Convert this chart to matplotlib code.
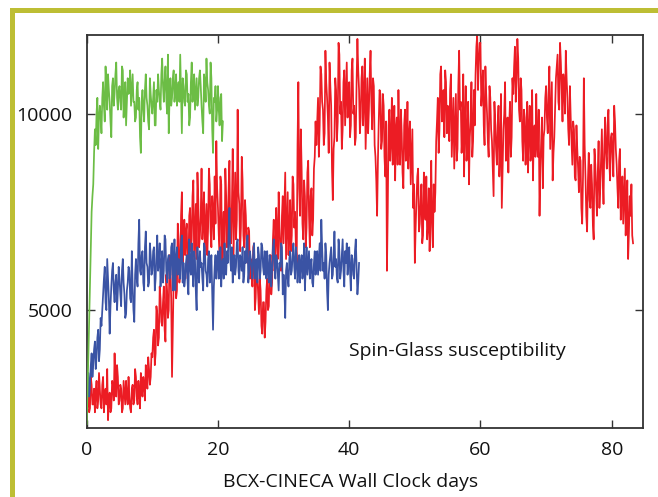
import numpy as np
import matplotlib
matplotlib.use("Agg")
import matplotlib.pyplot as plt
from matplotlib.patches import Rectangle

# ---------------- data ----------------
# each series is sampled every 0.25 days (values) plus the samples in between
# (values_mid, taken at +0.125 days)
red_start, red_step = 0.0, 0.25
red_values = [
    2300, 2900, 2500, 3100, 2600, 2400, 3200, 2700, 3000, 2500, 3300, 2800, 2600, 2200, 2900, 2500, 3100, 3900, 2800, 3300,
    2700, 3000, 2500, 2900, 3200, 2600, 2800, 2400, 3100, 2700, 3300, 2600, 2900, 3400, 2800, 3100, 3600, 3000, 3500, 3300,
    3800, 4500, 3900, 4900, 4300, 5300, 4600, 5600, 4200, 5500, 5000, 6100, 3300, 5800, 6300, 5500, 6800, 6000, 8000, 6600,
    6400, 7200, 6100, 7600, 6800, 8300, 7000, 6300, 7800, 6900, 8600, 7300, 6500, 7700, 7100, 8200, 6600, 7500, 8400, 9300,
    7600, 6500, 8200, 7000, 6300, 7900, 7200, 8800, 6700, 9100, 7500, 6800, 10100, 7700, 7100, 8300, 6600, 7400, 6200, 7000,
    6300, 5600, 6700, 5300, 5900, 4900, 5500, 4400, 5200, 4700, 5800, 5100, 6400, 5700, 7300, 6200, 6900, 8000, 6500, 7400,
    6700, 8500, 7200, 6400, 7800, 6900, 8200, 7500, 6200, 10800, 7400, 8600, 6800, 7900, 7100, 8800, 6600, 8100, 7300, 8900,
    9200, 10400, 9700, 11000, 10100, 9500, 10800, 9900, 11300, 10200, 7800, 9400, 10600, 9800, 11500, 10300, 9600, 11100, 10500, 9900,
    10800, 9700, 11400, 10200, 9400, 11900, 10600, 9900, 11200, 10400, 9100, 10900, 10100, 11600, 9600, 10700, 8900, 7400, 9800, 10500,
    9300, 10200, 8400, 6000, 9700, 8800, 10400, 9100, 8300, 9900, 10600, 8700, 9500, 8100, 10100, 9200, 8600, 9800, 8900, 7600,
    6200, 7800, 8600, 7200, 8200, 6900, 7600, 8400, 7100, 6500, 8800, 6600, 7500, 9300, 10400, 9600, 11200, 10000, 9400, 10800,
    10200, 9300, 11000, 9700, 8600, 10500, 9100, 11600, 10300, 9500, 8400, 10700, 9200, 8200, 9800, 8900, 10600, 11000, 12000, 11300,
    11800, 10600, 9700, 11200, 10000, 8900, 10400, 9300, 7900, 9800, 8700, 10200, 9000, 7600, 9600, 10800, 9200, 8500, 10300, 9400,
    10500, 11700, 10900, 11400, 9800, 10600, 8800, 9900, 9400, 8500, 10200, 9100, 8300, 9700, 10500, 8900, 7400, 9300, 8100, 9600,
    10700, 9500, 11200, 10000, 8300, 9400, 10900, 11500, 10100, 11300, 9800, 10700, 11600, 10400, 9200, 9900, 8700, 9600, 8300, 9100,
    8000, 8800, 7200, 10900, 8400, 7000, 9000, 7600, 8200, 6800, 8700, 7400, 9300, 8100, 9600, 7700, 9900, 8600, 10100, 8300,
    9500, 8400, 9800, 8700, 7600, 9100, 8000, 7200, 8600, 7500, 6300, 7900, 8200, 6700,
]
red_values_mid = [
    2700, 2400, 3300, 2600, 3000, 2900, 2500, 3400, 2600, 3100, 2400, 3000, 3500, 2700, 2400, 3200, 2700, 3000, 3600, 2600,
    3100, 2400, 3200, 2600, 2800, 3300, 2500, 3000, 2600, 3500, 2800, 3200, 2500, 3000, 3300, 2700, 3200, 3800, 3100, 3900,
    4300, 3600, 5100, 4100, 5600, 4700, 5200, 4500, 5900, 4800, 6400, 5300, 4600, 6200, 5300, 7200, 5700, 7400, 6200, 7300,
    7000, 5800, 7400, 6500, 7900, 6200, 7700, 8500, 6600, 7400, 6800, 8000, 7100, 6400, 8600, 7000, 7900, 6800, 7200, 8100,
    6900, 8400, 6200, 7500, 8600, 6600, 8100, 6900, 7700, 6400, 8500, 7300, 8000, 6500, 8900, 6900, 7800, 6500, 7100, 5800,
    5900, 6600, 5000, 6200, 5400, 5800, 4600, 5200, 4300, 5500, 5000, 6100, 5400, 6800, 6000, 7600, 6300, 7100, 6000, 7900,
    7600, 6300, 8000, 7000, 6500, 8400, 7100, 6600, 9200, 8100, 9600, 7200, 8300, 6600, 8500, 7400, 7900, 6900, 8600, 9800,
    9800, 8900, 11200, 10300, 9200, 11600, 10400, 9000, 10700, 8600, 9100, 10900, 9300, 11800, 10000, 9100, 10800, 9700, 11300, 10400,
    9400, 11100, 10000, 9200, 10800, 11100, 9500, 10900, 9700, 11400, 10000, 9500, 11000, 10300, 10900, 9200, 8300, 8800, 10600, 9100,
    10500, 8900, 9800, 7600, 10100, 9300, 8700, 10200, 9600, 8700, 9400, 10100, 8500, 9700, 8800, 10300, 9400, 8200, 9600, 8200,
    7100, 8400, 7000, 7800, 6700, 8500, 7300, 6800, 8100, 7400, 7100, 8200, 8000, 9800, 9000, 11000, 9800, 10600, 11100, 9500,
    9600, 10600, 8900, 10400, 9600, 8800, 10700, 10100, 9000, 11000, 9700, 8800, 10300, 9400, 10800, 9300, 9700, 11700, 10600, 11800,
    10200, 11100, 9200, 10500, 9300, 10700, 9600, 8600, 10300, 9100, 9700, 8400, 10500, 8600, 10000, 8800, 9900, 9700, 8900, 10900,
    11200, 10300, 11900, 10100, 10900, 9300, 10100, 8700, 10300, 9600, 8800, 10600, 9500, 8900, 9200, 10100, 8600, 9900, 9400, 10400,
    9900, 10500, 9100, 10800, 9000, 10200, 11200, 10300, 11800, 10600, 11000, 10000, 10900, 9600, 10700, 9300, 9800, 8400, 9700, 8600,
    8900, 7600, 8400, 9200, 7400, 8300, 7800, 8700, 7200, 9100, 8000, 8500, 7600, 8900, 8400, 9200, 9000, 9700, 8800, 9400,
    8900, 10200, 9100, 8100, 8800, 7300, 8400, 7900, 6900, 8300, 7000, 7400, 6900,
]

blue_start, blue_step = 0.0, 0.25
blue_values = [
    2600, 3400, 3100, 3900, 3600, 4200, 3800, 4500, 4000, 4600,
    5400, 6100, 5000, 5800, 4400, 5600, 6200, 5200, 5900, 5500,
    5800, 5100, 6300, 5400, 4900, 5700, 6000, 5200, 5600, 4700,
    6300, 5600, 7300, 5900, 6500, 5500, 7000, 6100, 5700, 6400,
    6000, 6600, 5800, 6900, 6200, 5600, 6500, 6000, 6800, 5700,
    6400, 5900, 6700, 6100, 5500, 6600, 6300, 5800, 6900, 6200,
    5800, 6400, 5400, 6100, 6700, 5600, 6300, 5000, 6000, 6500,
    6200, 5500, 6600, 5900, 6300, 5700, 6400, 4500, 6100, 5800,
    6500, 6000, 5600, 6300, 6700, 5900, 6200, 7600, 6000, 5700,
    6400, 6100, 6800, 5800, 6300, 6600, 5900, 6200, 6900, 6000,
    6300, 5800, 6700, 6100, 5700, 6400, 6000, 6600, 5900, 6200,
    6500, 5700, 6200, 6000, 6800, 5800, 6300, 5500, 6100, 6600,
    5900, 4800, 6200, 5600, 6500, 6000, 6700, 5800, 6300, 6100,
    5700, 6400, 6000, 5500, 6600, 6200, 5800, 6300, 5600, 6500,
    6100, 5900, 6700, 7300, 6000, 5800, 6400, 5000, 6200, 6600,
    5900, 7000, 6300, 5700, 6500, 6000, 6800, 5600, 6200, 5900,
    6600, 5500, 6300, 5800, 6800, 5400, 6200,
]
blue_values_mid = [
    3000, 2800, 3600, 3300, 4000, 3500, 4300, 3700, 4800, 5000,
    5800, 5200, 6300, 5300, 5100, 6000, 5500, 5700, 5000, 6100,
    5400, 6000, 5700, 4800, 5500, 6100, 5300, 6500, 5000, 5900,
    5800, 6700, 6000, 6400, 5700, 6600, 6200, 5600, 6700, 5900,
    6500, 5500, 6400, 6000, 6700, 6100, 5700, 6900, 6000, 6300,
    5800, 6600, 5500, 6800, 6300, 5900, 6100, 6700, 5700, 5600,
    6200, 5700, 6800, 5900, 6000, 6500, 5500, 6600, 5700, 6100,
    5800, 6700, 6000, 5600, 6500, 6100, 5400, 5600, 6400, 6200,
    5800, 6600, 6200, 5800, 6000, 6500, 7000, 6300, 6600, 6200,
    5900, 6700, 6000, 6400, 6000, 5700, 6500, 6700, 5700, 6500,
    6000, 6500, 5800, 6300, 6600, 5800, 6700, 6100, 6500, 5800,
    6000, 6400, 5600, 6600, 6100, 6400, 5900, 6200, 6700, 5400,
    5500, 6000, 5800, 6300, 5900, 6400, 6100, 6600, 5700, 6400,
    6200, 5800, 6700, 6100, 5900, 6500, 6100, 5700, 6200, 5900,
    6500, 6300, 6000, 6600, 6200, 6700, 5500, 5900, 6400, 5800,
    6400, 6100, 5800, 6800, 5800, 6400, 6000, 6500, 6700, 6300,
    6000, 6400, 5900, 6500, 6100, 5700,
]

green_start, green_step = 0.0, 0.25
green_values = [
    2100, 3800, 5500, 7500, 8200, 9600, 10000, 9100,
    10200, 9500, 10800, 9800, 10600, 11000, 10300, 9400, 10900, 10500, 11300, 10100,
    10700, 10100, 11100, 10400, 9700, 10900, 10600, 10200, 11000, 10300, 9900, 10800,
    10400, 9000, 10600, 9800, 11000, 10200, 9600, 10500, 10000, 10800, 9700, 10300,
    10600, 10100, 11400, 10300, 11200, 10000, 9500, 10900, 10400, 11100, 10600, 10200,
    10800, 11500, 9500, 10700, 10200, 11000, 10500, 9900, 11300, 10600, 10100, 10900,
    10400, 11100, 10200, 9500, 10800, 11400, 10600, 10000, 10900, 9000, 10300, 9800,
    10700, 9700, 10500, 9800,
]
green_values_mid = [
    2900, 4700, 6400, 7900, 9000, 9200, 10400, 9900,
    9900, 10400, 10200, 11200, 10100, 10600, 9800, 10700, 10200, 11000, 10400, 10600,
    10300, 11200, 9900, 10800, 10300, 10500, 11100, 10600, 10300, 9800, 10600, 10100,
    9400, 10300, 10100, 10600, 10400, 9800, 10900, 10200, 10400, 9700, 10600, 11000,
    10300, 11000, 10700, 10800, 10400, 11500, 10400, 10200, 10900, 10300, 11000, 10600,
    10300, 10500, 10900, 10300, 11100, 10300, 9700, 10800, 10300, 11000, 10500, 10200,
    10900, 10700, 9800, 11000, 10300, 10800, 10200, 11300, 9600, 10400, 10700, 10100,
    10100, 10400, 9300,
]

x_ticks = [0, 20, 40, 60, 80]
y_ticks = [5000, 10000]
x_label = "BCX-CINECA Wall Clock days"
annotation = "Spin-Glass susceptibility"

# ---------------- figure ----------------
W, H = 658, 497
fig = plt.figure(figsize=(W / 100, H / 100), dpi=100)
plt.rcParams['font.family'] = ['Open Sans', 'DejaVu Sans']

border_col = '#bdbe34'
fig.patches.append(Rectangle((10 / W, 0), 5 / W, (H - 8) / H, transform=fig.transFigure,
                             facecolor=border_col, edgecolor='none', zorder=0))
fig.patches.append(Rectangle((10 / W, (H - 13) / H), (W - 10) / W, 5 / H, transform=fig.transFigure,
                             facecolor=border_col, edgecolor='none', zorder=0))

ax_l, ax_r, ax_t, ax_b = 86.7, 642.7, 35, 428
ax = fig.add_axes([ax_l / W, (H - ax_b) / H, (ax_r - ax_l) / W, (ax_b - ax_t) / H])


def series(start, step, vals, mids):
    t = np.concatenate([start + step * np.arange(len(vals)),
                        start + step / 2 + step * np.arange(len(mids))])
    v = np.concatenate([np.asarray(vals, float), np.asarray(mids, float)])
    order = np.argsort(t, kind='stable')
    return t[order], v[order]


rx, ry = series(red_start, red_step, red_values, red_values_mid)
bx, by = series(blue_start, blue_step, blue_values, blue_values_mid)
gx, gy = series(green_start, green_step, green_values, green_values_mid)

ax.plot(rx, ry, color='#ec1c24', lw=1.25, zorder=2)
ax.plot(bx, by, color='#3a53a4', lw=1.25, zorder=3)
ax.plot(gx, gy, color='#6cbd45', lw=1.25, zorder=4)

ax.set_xlim(0, 84.72)
ax.set_ylim(2000, 12000)
ax.set_xticks(x_ticks)
ax.set_yticks(y_ticks)
ax.tick_params(direction='in', length=5.5, width=1, colors='#333333', labelcolor='#111111',
               labelsize=14, top=True, right=True)
ax.tick_params(axis='x', pad=9.5)
ax.tick_params(axis='y', pad=10)
for s in ax.spines.values():
    s.set_color('#333333')
    s.set_linewidth(1.3)

ax.text(40.0, 3960, annotation, fontsize=14, color='#111111', ha='left', va='center')
fig.text(351 / W, (H - 482) / H, x_label, fontsize=14, color='#111111', ha='center', va='center')

fig.savefig('out.png', dpi=100)
